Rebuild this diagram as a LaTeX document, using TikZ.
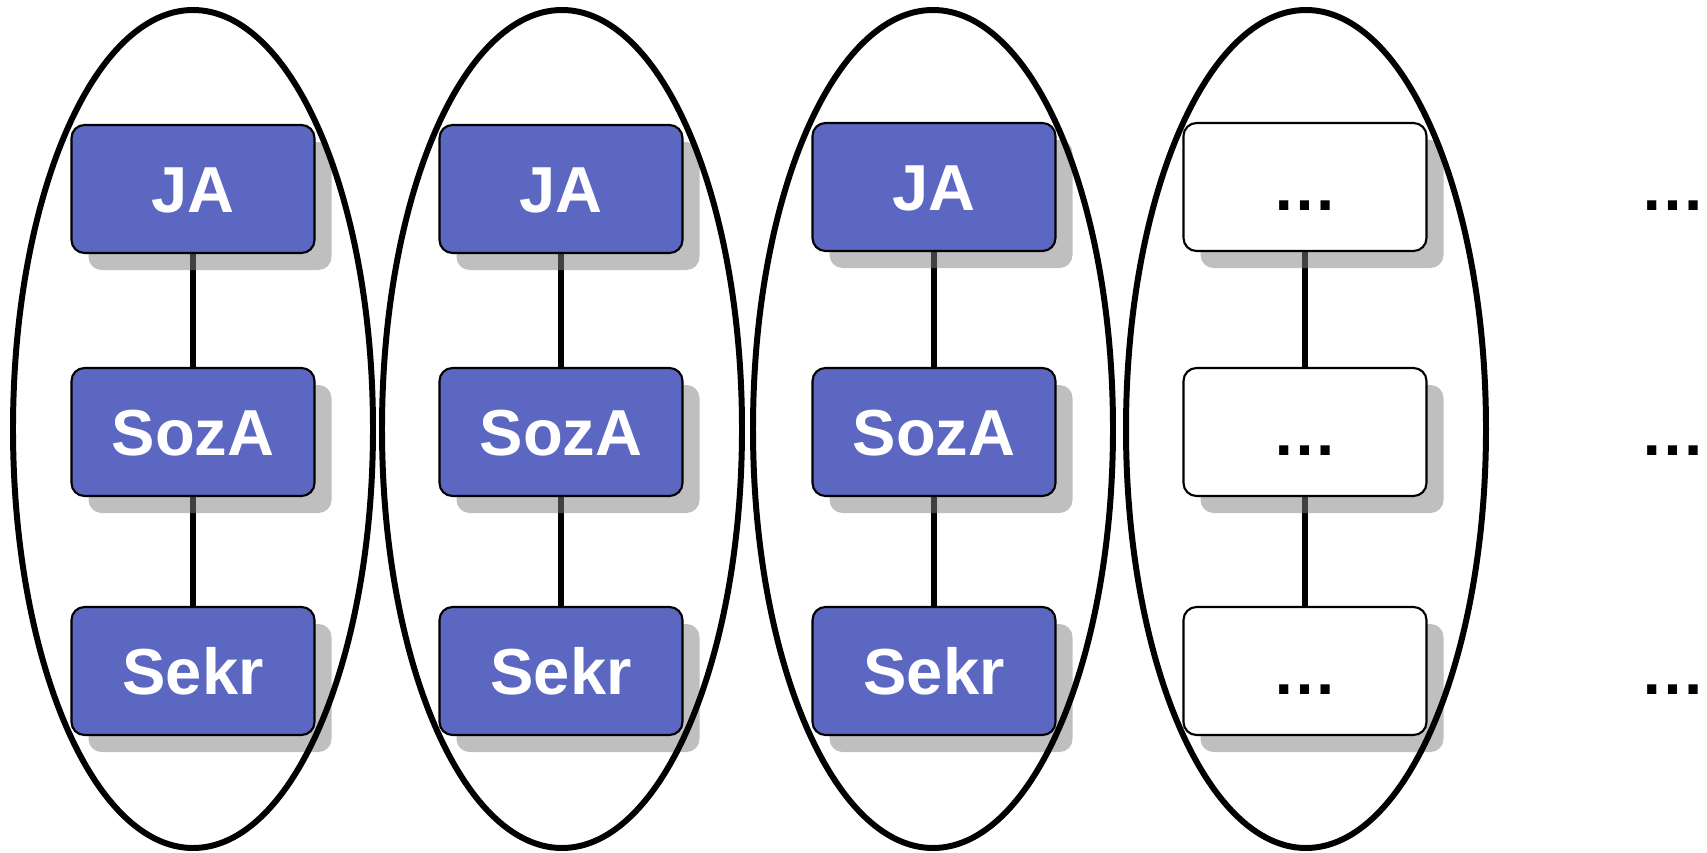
\documentclass[tikz,border=0pt]{standalone}
\usepackage{fontspec}
\setmainfont{Liberation Sans}
\usepackage{tikz}
\usepackage{xcolor}
\usetikzlibrary{
    shadows,
    calc
}
\definecolor{boxblue}{RGB}{92,103,193}
\pgfdeclarelayer{back}
\pgfsetlayers{back,main}
\tikzset{
    unit/.style={draw=black, line width=1.2pt, rounded corners=0.26cm,
        minimum width=4.86cm, minimum height=2.56cm,
        text height=0.94cm, text depth=0pt,
        font=\fontsize{37}{44}\selectfont\bfseries,
        drop shadow={shadow xshift=0.34cm, shadow yshift=-0.34cm, fill=black!50, opacity=0.5}},
    bluebox/.style={unit, fill=boxblue, text=white},
    emptybox/.style={unit, fill=white, text=black},
    moredots/.style={text height=0.94cm, text depth=0pt, font=\fontsize{37}{44}\selectfont\bfseries},
    link/.style={line width=3.2pt},
    group/.style={line width=3.4pt}
}

\begin{document}
\begin{tikzpicture}
    \useasboundingbox (0, 0) rectangle (34.14, -17.06);
    \begin{scope}[shift={(3.86, 0)}]
        \node[bluebox] (ja1) at (0, -3.78) {JA};
        \node[bluebox] (soza1) at (0, -8.64) {SozA};
        \node[bluebox] (sekr1) at (0, -13.42) {Sekr};
        \begin{pgfonlayer}{back}
            \draw[link] (ja1) -- (soza1) (soza1) -- (sekr1);
        \end{pgfonlayer}
        \draw[group] (0, -8.58) ellipse [x radius=3.6cm, y radius=8.38cm];
    \end{scope}
    \begin{scope}[shift={(11.22, 0)}]
        \node[bluebox] (ja2) at (0, -3.78) {JA};
        \node[bluebox] (soza2) at (0, -8.64) {SozA};
        \node[bluebox] (sekr2) at (0, -13.42) {Sekr};
        \begin{pgfonlayer}{back}
            \draw[link] (ja2) -- (soza2) (soza2) -- (sekr2);
        \end{pgfonlayer}
        \draw[group] (0.02, -8.58) ellipse [x radius=3.6cm, y radius=8.38cm];
    \end{scope}
    \begin{scope}[shift={(18.68, 0)}]
        \node[bluebox] (ja3) at (0, -3.74) {JA};
        \node[bluebox] (soza3) at (0, -8.64) {SozA};
        \node[bluebox] (sekr3) at (0, -13.42) {Sekr};
        \begin{pgfonlayer}{back}
            \draw[link] (ja3) -- (soza3) (soza3) -- (sekr3);
        \end{pgfonlayer}
        \draw[group] (-0.02, -8.58) ellipse [x radius=3.6cm, y radius=8.38cm];
    \end{scope}
    \begin{scope}[shift={(26.1, 0)}]
        \node[emptybox] (top4) at (0, -3.74) {…};
        \node[emptybox] (mid4) at (0, -8.64) {…};
        \node[emptybox] (low4) at (0, -13.42) {…};
        \begin{pgfonlayer}{back}
            \draw[link] (top4) -- (mid4) (mid4) -- (low4);
        \end{pgfonlayer}
        \draw[group] (0.02, -8.58) ellipse [x radius=3.6cm, y radius=8.38cm];
    \end{scope}
    % further columns
    \node[moredots] (more1) at (33.46, -3.74) {…};
    \node[moredots] (more2) at (33.46, -8.64) {…};
    \node[moredots] (more3) at (33.46, -13.42) {…};
\end{tikzpicture}
\end{document}
